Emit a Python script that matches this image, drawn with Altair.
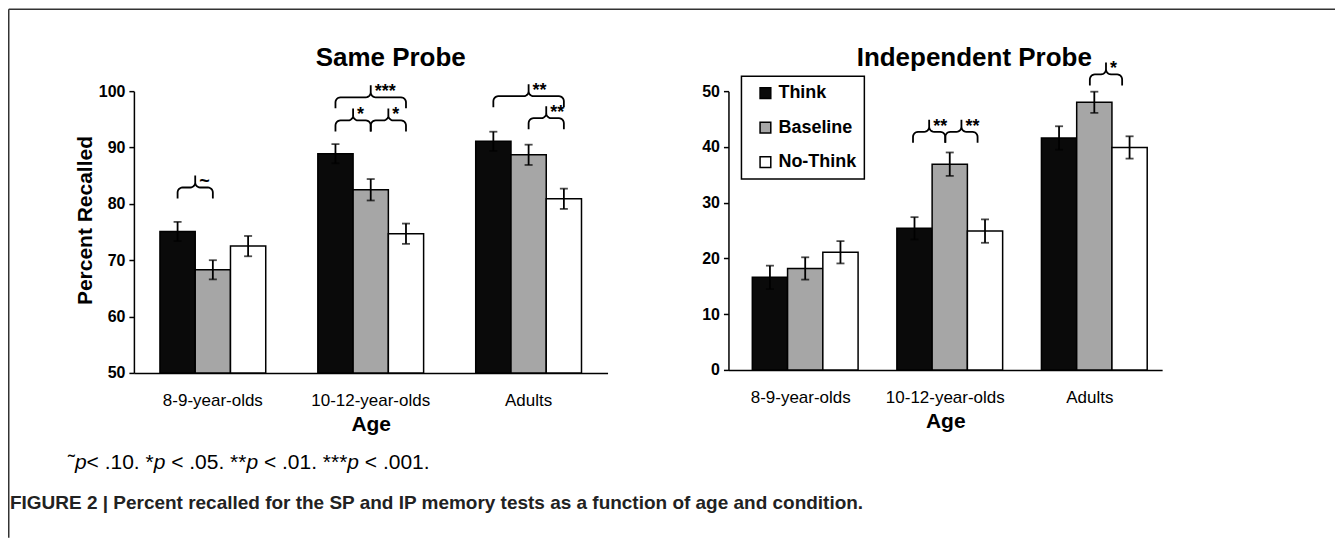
import math
import altair as alt
import pandas as pd

# ---------------- data ----------------
ages = ["8-9-year-olds", "10-12-year-olds", "Adults"]
conditions = ["Think", "Baseline", "No-Think"]
colors = ["#0a0a0a", "#a6a6a6", "#ffffff"]

# Same Probe (percent recalled) and standard errors
sp_think = [75.1, 88.9, 91.1]
sp_baseline = [68.3, 82.5, 88.7]
sp_nothink = [72.5, 74.7, 80.9]
sp_err_think = [1.7, 1.7, 1.7]
sp_err_baseline = [1.7, 1.9, 1.8]
sp_err_nothink = [1.8, 1.8, 1.8]

# Independent Probe
ip_think = [16.6, 25.4, 41.6]
ip_baseline = [18.2, 36.9, 48.0]
ip_nothink = [21.1, 24.9, 39.9]
ip_err_think = [2.1, 2.0, 2.1]
ip_err_baseline = [2.0, 2.1, 1.9]
ip_err_nothink = [2.0, 2.1, 2.0]

# significance brackets
sp_br_age = ["8-9-year-olds", "10-12-year-olds", "10-12-year-olds", "10-12-year-olds", "Adults", "Adults"]
sp_br_from = ["Think", "Think", "Baseline", "Think", "Think", "Baseline"]
sp_br_to = ["Baseline", "Baseline", "No-Think", "No-Think", "No-Think", "No-Think"]
sp_br_level = [82.9, 94.8, 94.8, 98.9, 99.1, 95.2]
sp_br_label = ["~", "*", "*", "***", "**", "**"]

ip_br_age = ["10-12-year-olds", "10-12-year-olds", "Adults"]
ip_br_from = ["Think", "Baseline", "Baseline"]
ip_br_to = ["Baseline", "No-Think", "No-Think"]
ip_br_level = [42.7, 42.7, 53.0]
ip_br_label = ["**", "**", "*"]

sp_domain = [50, 100]
ip_domain = [0, 50]

footnote_parts = ["˜", "p", "< .10. *", "p", " < .05. **", "p", " < .01. ***", "p", " < .001."]
footnote_italic = [False, True, False, True, False, True, False, True, False]
caption = "FIGURE 2 | Percent recalled for the SP and IP memory tests as a function of age and condition."

# ---------------- layout constants ----------------
W_L, H_L = 474, 282
W_R, H_R = 434, 279
PAD_INNER = 0.33
FONT = "Liberation Sans"
FN_SIZE = 21
ARIAL = {" ": 278, ".": 278, "<": 584, "*": 389, "˜": 333, "p": 556}
for d in "0123456789":
    ARIAL[d] = 556


def bar_frame(means_lists, err_lists):
    rows = []
    for c, means, errs in zip(conditions, means_lists, err_lists):
        for a, m, e in zip(ages, means, errs):
            rows.append({"age": a, "condition": c, "mean": m, "lo": m - e, "hi": m + e})
    return pd.DataFrame(rows)


def center_units(age, cond):
    g = ages.index(age)
    c = conditions.index(cond)
    return g + PAD_INNER / 2 + (c + 0.5) * (1 - PAD_INNER) / 3


def arc(cx, cy, rx, ry, t0, t1, n=6):
    return [(cx + rx * math.cos(t0 + (t1 - t0) * k / n), cy + ry * math.sin(t0 + (t1 - t0) * k / n))
            for k in range(n + 1)]


def brace_frames(a_l, f_l, t_l, lev_l, lab_l, domain, w, h):
    xpp = 3 / w
    ypp = (domain[1] - domain[0]) / h
    r, drop, rise = 5, 11, 12
    pts, labs = [], []
    for k, (a, f, t, lev, lab) in enumerate(zip(a_l, f_l, t_l, lev_l, lab_l)):
        x1, x2 = center_units(a, f), center_units(a, t)
        xm = (x1 + x2) / 2
        rx, ry = r * xpp, r * ypp
        path = [(x1, lev - drop * ypp)]
        path += arc(x1 + rx, lev - ry, rx, ry, math.pi, math.pi / 2)
        path += arc(xm - rx, lev + ry, rx, ry, -math.pi / 2, 0)
        path.append((xm, lev + rise * ypp))
        path += arc(xm + rx, lev + ry, rx, ry, math.pi, 3 * math.pi / 2)
        path += arc(x2 - rx, lev - ry, rx, ry, math.pi / 2, 0)
        path.append((x2, lev - drop * ypp))
        for i, (x, y) in enumerate(path):
            pts.append({"id": k, "i": i, "x": x, "y": y})
        labs.append({"x": xm + 4 * xpp, "y": lev + 0.3 * ypp, "label": lab})
    return pd.DataFrame(pts), pd.DataFrame(labs)


def panel(df, domain, br, w, h, title, title_x, show_ytitle, show_legend, extra=None):
    yscale = alt.Scale(domain=domain, nice=False, zero=False)
    xenc = alt.X("age:N", sort=ages, scale=alt.Scale(paddingInner=PAD_INNER, paddingOuter=PAD_INNER / 2),
                 axis=alt.Axis(title="Age", labelAngle=0, ticks=False, tickSize=0, labelPadding=20,
                               labelFontSize=17, labelFontWeight="normal", titleFontSize=21,
                               titleFontWeight="bold", titlePadding=5, domainColor="black",
                               domainWidth=1.5, labelColor="black", titleColor="black"))
    xoff = alt.XOffset("condition:N", sort=conditions, scale=alt.Scale(paddingInner=0, paddingOuter=0))
    yaxis = alt.Axis(values=list(range(domain[0], domain[1] + 1, 10)), grid=False, tickSize=5, tickWidth=1.5,
                     tickColor="black", domainColor="black", domainWidth=1.5, labelFontSize=16,
                     labelFontWeight="bold", labelPadding=4, labelColor="black",
                     title="Percent Recalled" if show_ytitle else "", titleFontSize=21,
                     titleFontWeight="bold", titleColor="black", titleX=-48, titleY=129,
                     titleBaseline="middle")
    if show_legend:
        leg = alt.Legend(orient="none", legendX=13, legendY=-15, title=None, symbolType="square",
                         symbolSize=115, symbolStrokeColor="black", symbolStrokeWidth=1.5,
                         labelFontSize=18, labelFontWeight="bold", labelColor="black", labelFont=FONT,
                         padding=8, rowPadding=16.5, labelOffset=4, symbolOffset=7,
                         strokeColor="black", fillColor="white",
                         labelExpr="datum.label + '\u00a0'")
    else:
        leg = None
    color = alt.Color("condition:N", sort=conditions, scale=alt.Scale(domain=conditions, range=colors),
                      legend=leg)

    bars = alt.Chart(df).mark_bar(stroke="black", strokeWidth=1.5).encode(
        x=xenc, xOffset=xoff, y=alt.Y("mean:Q", scale=yscale, axis=yaxis), y2=alt.datum(domain[0]),
        color=color)
    rules = alt.Chart(df).mark_rule(color="black", strokeWidth=1.8).encode(
        x=alt.X("age:N", sort=ages), xOffset=alt.XOffset("condition:N", sort=conditions),
        y=alt.Y("lo:Q", scale=yscale), y2="hi:Q")
    caps_lo = alt.Chart(df).mark_tick(color="black", thickness=1.8, size=8, orient="horizontal").encode(
        x=alt.X("age:N", sort=ages), xOffset=alt.XOffset("condition:N", sort=conditions),
        y=alt.Y("lo:Q", scale=yscale))
    caps_hi = alt.Chart(df).mark_tick(color="black", thickness=1.8, size=8, orient="horizontal").encode(
        x=alt.X("age:N", sort=ages), xOffset=alt.XOffset("condition:N", sort=conditions),
        y=alt.Y("hi:Q", scale=yscale))
    main = alt.layer(bars, rules, caps_lo, caps_hi)

    pts, labs = br
    bx = alt.X("x:Q", scale=alt.Scale(domain=[0, 3], nice=False, zero=False), axis=None)
    by = alt.Y("y:Q", scale=yscale, axis=None)
    lines = alt.Chart(pts).mark_line(color="black", strokeWidth=1.8).encode(
        x=bx, y=by, detail="id:N", order="i:Q")
    texts = alt.Chart(labs).mark_text(align="left", baseline="alphabetic", fontSize=18, fontWeight="bold",
                                      color="black").encode(x=bx, y=by, text="label:N")
    braces = alt.layer(lines, texts)

    one = pd.DataFrame({"d": [0]})
    deco = [alt.Chart(one).mark_text(fontSize=26, fontWeight="bold", color="black", align="center",
                                     baseline="middle").encode(
        x=alt.value(title_x), y=alt.value(-33), text=alt.value(title))]
    if extra:
        deco += extra
    return alt.layer(main, braces, *deco).resolve_scale(x="independent", y="independent").properties(
        width=w, height=h)


one = pd.DataFrame({"d": [0]})
extra_left = []
# figure border (top and left edges)
extra_left.append(alt.Chart(one).mark_rule(color="#333333", strokeWidth=1.5).encode(
    x=alt.value(-125.25), x2=alt.value(1202), y=alt.value(-81.95)))
extra_left.append(alt.Chart(one).mark_rule(color="#333333", strokeWidth=1.5).encode(
    x=alt.value(-125.25), y=alt.value(-81.95), y2=alt.value(447)))
# footnote, with italic p
cx = -66.0
for part, ital in zip(footnote_parts, footnote_italic):
    lead = len(part) - len(part.lstrip(" "))
    start = cx + sum(ARIAL[ch] for ch in part[:lead]) * FN_SIZE / 1000
    extra_left.append(alt.Chart(one).mark_text(fontSize=FN_SIZE, fontStyle="italic" if ital else "normal",
                                               align="left", baseline="middle", color="black").encode(
        x=alt.value(start), y=alt.value(372.3), text=alt.value(part.strip(" "))))
    cx += sum(ARIAL[ch] for ch in part) * FN_SIZE / 1000
# caption
extra_left.append(alt.Chart(one).mark_text(fontSize=19, fontWeight="bold", align="left", baseline="middle",
                                           color="#222222").encode(
    x=alt.value(-124), y=alt.value(412.3), text=alt.value(caption)))

left = panel(bar_frame([sp_think, sp_baseline, sp_nothink], [sp_err_think, sp_err_baseline, sp_err_nothink]),
             sp_domain,
             brace_frames(sp_br_age, sp_br_from, sp_br_to, sp_br_level, sp_br_label, sp_domain, W_L, H_L),
             W_L, H_L, "Same Probe", 257, True, False, extra_left)
right = panel(bar_frame([ip_think, ip_baseline, ip_nothink], [ip_err_think, ip_err_baseline, ip_err_nothink]),
              ip_domain,
              brace_frames(ip_br_age, ip_br_from, ip_br_to, ip_br_level, ip_br_label, ip_domain, W_R, H_R),
              W_R, H_R, "Independent Probe", 246, False, True)

chart = alt.hconcat(left, right, spacing=121, bounds="flush").resolve_scale(
    color="independent").resolve_legend(color="independent").configure(
    font=FONT, padding={"left": 0, "top": 0, "right": 0, "bottom": 0}, background="white"
).configure_view(stroke=None).configure_legend(strokeWidth=1.5)

chart.save("out.html", embed_options={"renderer": "svg", "actions": False})
